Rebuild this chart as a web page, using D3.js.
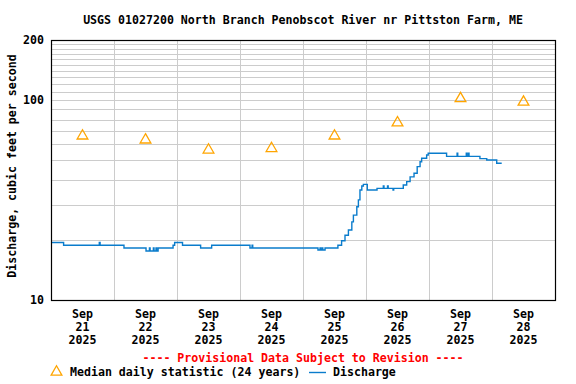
<!DOCTYPE html>
<html>
<head>
<meta charset="utf-8">
<script src="https://cdn.jsdelivr.net/npm/d3@7"></script>
<style>
  body { margin: 0; background: #fff; }
  text { font-family: "DejaVu Sans Mono", monospace; font-weight: bold; }
</style>
</head>
<body>
<svg id="chart" width="576" height="384"></svg>
<script>
// discharge: hours after Sep 21 00:00, cfs (stepped 15-min data)
var dischargeHours = [0, 4.8, 18.4, 18.7, 27.8, 36.2, 37.5, 37.75, 39, 39.25, 40, 40.25, 40.8, 46.5, 47.1, 50.1,
  57, 61.2, 75.8, 76.6, 76.85, 101.7, 102.5, 102.75, 103.3, 103.55, 104.4, 109.3, 110.7, 112, 113.3, 114.6,
  115.2, 116.5, 117.1, 117.7, 118.4, 119, 120.5, 124.2, 126.6, 126.85, 128.2, 128.45, 130.3, 130.55, 134.2,
  135.5, 136.8, 138.3, 139.5, 140.6, 141.2, 143.1, 143.7, 150.7, 154.7, 154.95, 158.2, 158.45, 159, 159.25,
  163.4, 166, 169.8, 171.7];
var dischargeCfs = [19.4, 18.8, 19.4, 18.8, 18.2, 17.6, 18.2, 17.6, 18.2, 17.6, 18.2, 17.6, 18.2, 18.8, 19.4, 18.8,
  18.2, 18.8, 18.2, 18.8, 18.2, 17.8, 18.2, 17.8, 18.2, 17.8, 18.2, 18.8, 19.8, 21.1, 22.4, 24.6,
  26.6, 29.3, 31.7, 35.5, 37.2, 37.9, 35.5, 36.2, 37.2, 36.2, 37.2, 36.2, 35.5, 36.2, 37.6,
  39.1, 41.3, 43.1, 46.5, 49.2, 51.2, 53.2, 54.2, 52.3, 54.2, 52.3, 54.2, 52.3, 54.2, 52.3,
  51.0, 50.2, 48.3, 48.3];

var medianDays = ["2025-09-21", "2025-09-22", "2025-09-23", "2025-09-24", "2025-09-25", "2025-09-26", "2025-09-27", "2025-09-28"];
var medianCfs = [67, 64, 57, 58, 67, 78, 103, 99];

var yTicks = [10, 100, 200];
var yGrid = d3.range(20, 200, 10);

var svg = d3.select("#chart");
var margin = { top: 40, left: 51, right: 21, bottom: 84 };
var width = 576 - margin.left - margin.right;
var height = 384 - margin.top - margin.bottom;

var t0 = new Date(Date.UTC(2025, 8, 21));
var t1 = new Date(Date.UTC(2025, 8, 29));
var x = d3.scaleUtc().domain([t0, t1]).range([margin.left, margin.left + width]);
var y = d3.scaleLog().domain([10, 200]).range([margin.top + height, margin.top]);

var days = d3.utcDay.range(t0, t1);

// grid
var grid = svg.append("g").attr("class", "grid")
  .attr("stroke", "#cccccc").attr("stroke-width", 1).attr("shape-rendering", "crispEdges");
grid.selectAll("line.h").data(yGrid).enter().append("line")
  .attr("x1", margin.left).attr("x2", margin.left + width)
  .attr("y1", function (d) { return Math.round(y(d)) + 0.5; })
  .attr("y2", function (d) { return Math.round(y(d)) + 0.5; });
grid.selectAll("line.v").data(days.slice(1)).enter().append("line")
  .attr("y1", margin.top).attr("y2", margin.top + height)
  .attr("x1", function (d) { return Math.round(x(d)) + 0.5; })
  .attr("x2", function (d) { return Math.round(x(d)) + 0.5; });

// discharge line
var line = d3.line()
  .x(function (d) { return x(new Date(t0.getTime() + d[0] * 3600000)); })
  .y(function (d) { return y(d[1]); })
  .curve(d3.curveStepAfter);
var pts = dischargeHours.map(function (h, i) { return [h, dischargeCfs[i]]; });
svg.append("path").datum(pts)
  .attr("d", line)
  .attr("fill", "none")
  .attr("stroke", "#0a7ccc")
  .attr("stroke-width", 1.4);

// median triangles
var tri = d3.symbol().type(d3.symbolTriangle).size(50);
svg.selectAll("path.med").data(medianDays).enter().append("path")
  .attr("d", tri)
  .attr("transform", function (d, i) {
    var dt = new Date(d + "T12:00:00Z");
    return "translate(" + x(dt) + "," + (y(medianCfs[i]) + 1) + ")";
  })
  .attr("fill", "none").attr("stroke", "#ffa500").attr("stroke-width", 1.3);

// frame
svg.append("rect")
  .attr("x", margin.left + 0.5).attr("y", margin.top + 0.5)
  .attr("width", width).attr("height", height)
  .attr("fill", "none").attr("stroke", "#000").attr("stroke-width", 1.2);

// y tick labels
svg.selectAll("text.yt").data(yTicks).enter().append("text")
  .attr("x", margin.left - 7).attr("y", function (d) { return y(d) + 4; })
  .attr("text-anchor", "end").style("font-size", "11.6px")
  .text(function (d) { return d; });

// x labels
var fmtMon = d3.utcFormat("%b"), fmtDay = d3.utcFormat("%d"), fmtYr = d3.utcFormat("%Y");
var xl = svg.selectAll("g.xl").data(days).enter().append("g")
  .attr("transform", function (d) { return "translate(" + x(d3.utcHour.offset(d, 12)) + ",0)"; });
xl.append("text").attr("y", 318).attr("text-anchor", "middle").style("font-size", "11.6px").text(fmtMon);
xl.append("text").attr("y", 331).attr("text-anchor", "middle").style("font-size", "11.6px").text(fmtDay);
xl.append("text").attr("y", 344).attr("text-anchor", "middle").style("font-size", "11.6px").text(fmtYr);

// title
svg.append("text")
  .attr("x", margin.left + width / 2).attr("y", 24)
  .attr("text-anchor", "middle").style("font-size", "11.6px")
  .text("USGS 01027200 North Branch Penobscot River nr Pittston Farm, ME");

// y axis title
svg.append("text")
  .attr("transform", "translate(16," + (margin.top + height / 2 - 4) + ") rotate(-90)")
  .attr("text-anchor", "middle").style("font-size", "11.6px")
  .text("Discharge, cubic feet per second");

// provisional note
svg.append("text")
  .attr("x", margin.left + width / 2).attr("y", 362)
  .attr("text-anchor", "middle").style("font-size", "11.6px").attr("fill", "#ff0000")
  .text("---- Provisional Data Subject to Revision ----");

// legend
svg.append("path").attr("d", tri)
  .attr("transform", "translate(56.5,372)")
  .attr("fill", "none").attr("stroke", "#ffa500").attr("stroke-width", 1.3);
svg.append("text").attr("x", 70).attr("y", 376).style("font-size", "11.6px")
  .text("Median daily statistic (24 years)");
svg.append("line").attr("x1", 309).attr("x2", 326).attr("y1", 372.5).attr("y2", 372.5)
  .attr("stroke", "#0a7ccc").attr("stroke-width", 1.4);
svg.append("text").attr("x", 333).attr("y", 376).style("font-size", "11.6px")
  .text("Discharge");
</script>
</body>
</html>
